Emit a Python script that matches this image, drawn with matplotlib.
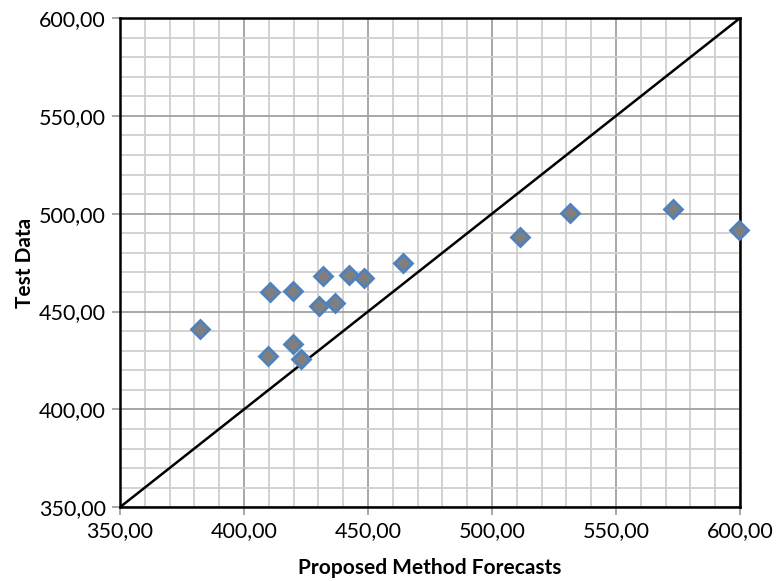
import numpy as np
import matplotlib.pyplot as plt
from matplotlib.ticker import MultipleLocator, FuncFormatter

# ==========================================================
# DATA
# ==========================================================

forecasts = [382.3, 409.8, 410.5, 419.6, 419.6, 423.1, 430.1, 431.7,
             436.7, 442.3, 448.4, 464.0, 511.3, 531.5, 573.1, 599.6]
test_data = [441.0, 427.2, 459.8, 433.3, 460.6, 425.7, 452.9, 468.1,
             454.6, 468.5, 467.2, 474.9, 488.2, 500.5, 502.5, 491.6]

axis_min = 350
axis_max = 600

# ==========================================================
# PLOT
# ==========================================================

plt.rcParams["font.family"] = ["Lato", "DejaVu Sans"]

fig = plt.figure(figsize=(7.84, 5.81), dpi=100)
ax = fig.add_axes([0.153, 0.127, 0.791, 0.842])

ax.plot([axis_min, axis_max], [axis_min, axis_max],
        color="black", linewidth=1.8, zorder=3)

ax.plot(forecasts, test_data, linestyle="none", marker="D",
        markersize=9.5, markerfacecolor="#7f7f7f",
        markeredgecolor="#4f81bd", markeredgewidth=2.0, zorder=4,
        clip_on=False)

ax.set_xlim(axis_min, axis_max)
ax.set_ylim(axis_min, axis_max)

fmt = FuncFormatter(lambda v, p: f"{v:.2f}".replace(".", ","))
for axis in (ax.xaxis, ax.yaxis):
    axis.set_major_locator(MultipleLocator(50))
    axis.set_minor_locator(MultipleLocator(10))
    axis.set_major_formatter(fmt)

ax.grid(which="minor", color="#d0d0d0", linewidth=1.3, zorder=0)
ax.grid(which="major", color="#a0a0a0", linewidth=1.3, zorder=1)
ax.set_axisbelow(True)

ax.tick_params(which="major", direction="out", length=6, width=1.3,
               color="#a0a0a0", labelsize=15.5, pad=4)
ax.tick_params(which="minor", length=0)

for spine in ax.spines.values():
    spine.set_color("black")
    spine.set_linewidth(1.8)

ax.set_xlabel("Proposed Method Forecasts", fontsize=15,
              fontweight="bold", labelpad=12)
ax.set_ylabel("Test Data", fontsize=15, fontweight="bold", labelpad=3)

plt.savefig("out.png", dpi=100)
